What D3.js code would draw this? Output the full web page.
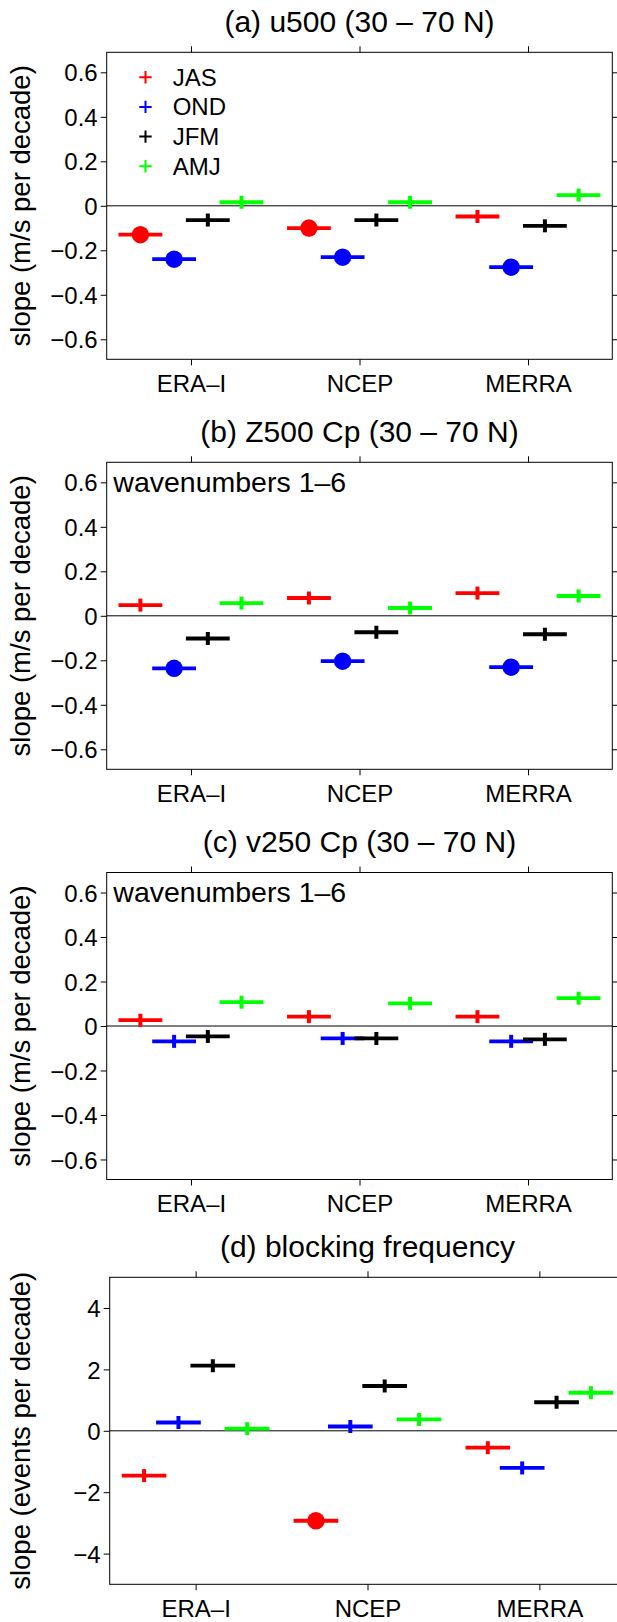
<!DOCTYPE html>
<html>
<head>
  <meta charset="utf-8">
  <script src="https://d3js.org/d3.v7.min.js"></script>
  <style>
    body { margin: 0; background: #fff; }
    text { font-family: "Liberation Sans", Arial, Helvetica, sans-serif; fill: #000; }
  </style>
</head>
<body>
  <div id="chart"></div>
  <script>
    // reanalysis datasets on the x axis, seasons plotted side by side
    var datasets = ["ERA\u2013I", "NCEP", "MERRA"];
    var seasons = ["JAS", "OND", "JFM", "AMJ"];
    var seasonOffsets = [-0.3, -0.1, 0.1, 0.3];
    var seasonColors = ["#ff0000", "#0000ff", "#000000", "#00ff00"];

    // slopes, one row per dataset, columns in season order
    var u500Slope = [[-0.130, -0.240, -0.064, 0.016],
                     [-0.100, -0.231, -0.064, 0.016],
                     [-0.048, -0.276, -0.090, 0.048]];
    var u500Sig = [[1, 1, 0, 0], [1, 1, 0, 0], [0, 1, 0, 0]];

    var z500Slope = [[0.048, -0.236, -0.102, 0.057],
                     [0.080, -0.204, -0.074, 0.035],
                     [0.102, -0.231, -0.083, 0.089]];
    var z500Sig = [[0, 1, 0, 0], [0, 1, 0, 0], [0, 1, 0, 0]];

    var v250Slope = [[0.026, -0.069, -0.047, 0.107],
                     [0.042, -0.056, -0.056, 0.102],
                     [0.042, -0.069, -0.060, 0.125]];
    var v250Sig = [[0, 0, 0, 0], [0, 0, 0, 0], [0, 0, 0, 0]];

    var blockSlope = [[-1.46, 0.27, 2.12, 0.07],
                      [-2.93, 0.14, 1.46, 0.37],
                      [-0.55, -1.21, 0.93, 1.24]];
    var blockSig = [[0, 0, 0, 0], [1, 0, 0, 0], [0, 0, 0, 0]];

    var slopeTicks = [-0.6, -0.4, -0.2, 0, 0.2, 0.4, 0.6];
    var blockTicks = [-4, -2, 0, 2, 4];

    var width = 617,
      height = 1622;

    var fmtSlope = function(d) { return d === 0 ? "0" : d3.format(".1f")(d); };
    var fmtBlock = d3.format("d");

    var panels = [
      { title: "(a) u500 (30 \u2013 70 N)", vals: u500Slope, sig: u500Sig, ticks: slopeTicks, fmt: fmtSlope,
        ylim: [-0.69, 0.69], left: 106.7, right: 612.3, top: 52.3, ylabel: "slope (m/s per decade)", legend: true },
      { title: "(b) Z500 Cp (30 \u2013 70 N)", vals: z500Slope, sig: z500Sig, ticks: slopeTicks, fmt: fmtSlope,
        ylim: [-0.69, 0.69], left: 106.7, right: 612.3, top: 462.3, ylabel: "slope (m/s per decade)", note: "wavenumbers 1\u20136" },
      { title: "(c) v250 Cp (30 \u2013 70 N)", vals: v250Slope, sig: v250Sig, ticks: slopeTicks, fmt: fmtSlope,
        ylim: [-0.69, 0.69], left: 106.7, right: 612.3, top: 872.5, ylabel: "slope (m/s per decade)", note: "wavenumbers 1\u20136" },
      { title: "(d) blocking frequency", vals: blockSlope, sig: blockSig, ticks: blockTicks, fmt: fmtBlock,
        ylim: [-5, 5], left: 109.7, right: 625.3, top: 1277.3, ylabel: "slope (events per decade)" }
    ];
    var boxH = 307;

    var svg = d3.select("#chart")
      .append("svg")
      .attr("width", width)
      .attr("height", height);

    svg.append("rect").attr("width", width).attr("height", height).attr("fill", "#fff");

    panels.forEach(function(p) {
      var x = d3.scaleLinear().domain([0.5, 3.5]).range([p.left, p.right]);
      var y = d3.scaleLinear().domain(p.ylim).range([p.top + boxH, p.top]);
      var g = svg.append("g");

      // axes: ticks point outward on all four sides
      var xt = [1, 2, 3];
      var bottom = g.append("g")
        .attr("transform", "translate(0," + (p.top + boxH) + ")")
        .call(d3.axisBottom(x).tickValues(xt).tickSize(6).tickSizeOuter(0).tickPadding(4)
          .tickFormat(function(d) { return datasets[d - 1]; }));
      g.append("g")
        .attr("transform", "translate(0," + p.top + ")")
        .call(d3.axisTop(x).tickValues(xt).tickSize(6).tickSizeOuter(0).tickFormat(""));
      var left = g.append("g")
        .attr("transform", "translate(" + p.left + ",0)")
        .call(d3.axisLeft(y).tickValues(p.ticks).tickSize(6).tickSizeOuter(0).tickPadding(3).tickFormat(p.fmt));
      g.append("g")
        .attr("transform", "translate(" + p.right + ",0)")
        .call(d3.axisRight(y).tickValues(p.ticks).tickSize(6).tickSizeOuter(0).tickFormat(""));

      g.selectAll(".domain").remove();
      g.selectAll(".tick line").attr("stroke", "#000").attr("stroke-width", 1);
      bottom.selectAll("text").attr("font-size", 24).attr("font-family", null).attr("dy", null).attr("y", 32.4);
      left.selectAll("text").attr("font-size", 24).attr("font-family", null).attr("dy", "0.36em");

      g.append("rect")
        .attr("x", p.left).attr("y", p.top)
        .attr("width", p.right - p.left).attr("height", boxH)
        .attr("fill", "none").attr("stroke", "#000").attr("stroke-width", 1);

      g.append("line")
        .attr("x1", p.left).attr("x2", p.right)
        .attr("y1", y(0)).attr("y2", y(0))
        .attr("stroke", "#000").attr("stroke-width", 1);

      g.append("text")
        .attr("x", (p.left + p.right) / 2)
        .attr("y", p.top - 20.6)
        .attr("text-anchor", "middle")
        .attr("font-size", 30)
        .text(p.title);

      g.append("text")
        .attr("transform", "translate(30," + (p.top + boxH / 2) + ") rotate(-90)")
        .attr("text-anchor", "middle")
        .attr("font-size", 27.5)
        .text(p.ylabel);

      if (p.note) {
        g.append("text")
          .attr("x", p.left + 6.6)
          .attr("y", p.top + 29.4)
          .attr("font-size", 28.5)
          .text(p.note);
      }

      // one mark per dataset x season: bar, plus circle if significant else a short cross bar
      var marks = [];
      p.vals.forEach(function(row, i) {
        row.forEach(function(v, j) {
          marks.push({ c: i + 1 + seasonOffsets[j], v: v, s: p.sig[i][j], k: j });
        });
      });

      var m = g.selectAll(".mark").data(marks).enter().append("g").attr("class", "mark");
      m.append("line")
        .attr("x1", function(d) { return x(d.c - 0.13); })
        .attr("x2", function(d) { return x(d.c + 0.13); })
        .attr("y1", function(d) { return y(d.v); })
        .attr("y2", function(d) { return y(d.v); })
        .attr("stroke", function(d) { return seasonColors[d.k]; })
        .attr("stroke-width", 3.8);
      m.filter(function(d) { return !d.s; }).append("line")
        .attr("x1", function(d) { return x(d.c); })
        .attr("x2", function(d) { return x(d.c); })
        .attr("y1", function(d) { return y(d.v) - 6.5; })
        .attr("y2", function(d) { return y(d.v) + 6.5; })
        .attr("stroke", function(d) { return seasonColors[d.k]; })
        .attr("stroke-width", 4);
      m.filter(function(d) { return d.s; }).append("circle")
        .attr("cx", function(d) { return x(d.c); })
        .attr("cy", function(d) { return y(d.v); })
        .attr("r", 8.7)
        .attr("fill", function(d) { return seasonColors[d.k]; });

      if (p.legend) {
        var lg = g.append("g").selectAll("g").data(seasons).enter().append("g")
          .attr("transform", function(d, i) { return "translate(0," + (85.7 + 29.7 * i) + ")"; });
        lg.append("path")
          .attr("d", "M139.3,-8.5H151.7M145.5,-14.7V-2.3")
          .attr("stroke", function(d, i) { return seasonColors[i]; })
          .attr("stroke-width", 2)
          .attr("fill", "none");
        lg.append("text")
          .attr("x", 172.7)
          .attr("font-size", 24)
          .text(function(d) { return d; });
      }
    });
  </script>
</body>
</html>
